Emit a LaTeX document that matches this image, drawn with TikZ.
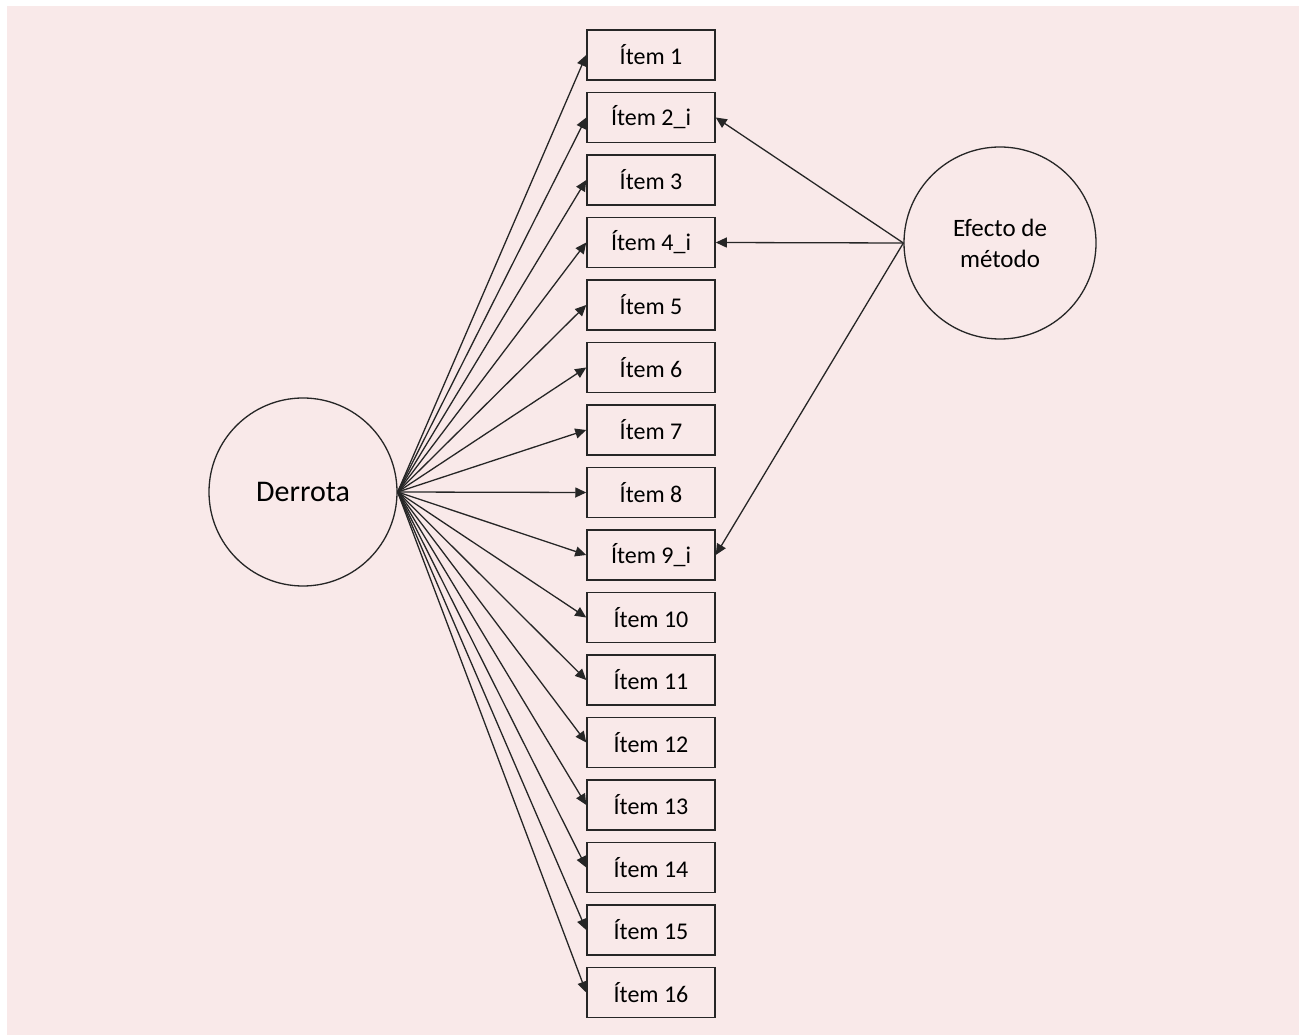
\documentclass[tikz,border=0pt]{standalone}
\usepackage{fontspec}
\setmainfont{Carlito}
\usetikzlibrary{arrows.meta}

\definecolor{fondo}{RGB}{249,233,233}

\tikzset{
    item/.style={rectangle, draw=black!85, line width=0.75pt, minimum width=64pt, minimum height=25pt, inner sep=0pt, font=\fontsize{12}{14}\selectfont},
    factor/.style={circle, draw=black!85, line width=0.65pt, inner sep=0pt},
    carga/.style={-{Triangle[length=5.5pt,width=5pt]}, line width=0.65pt, draw=black!85}
}

\begin{document}
\begin{tikzpicture}[x=0.5pt, y=0.5pt]

        \useasboundingbox (0,0) rectangle (1299,1034);
        \fill[fondo] (7,-6) rectangle (1306,1028);

        \node[factor, minimum size=94pt, font=\fontsize{15}{17}\selectfont] (derrota) at (303,542) {Derrota};
        \node[factor, minimum size=96pt, align=center, font=\fontsize{12.5}{15.5}\selectfont] (metodo) at (1000,791) {Efecto de\\método};

        \node[item] (i1) at (651,979) {Ítem 1};
        \node[item] (i2) at (651,916.5) {Ítem 2\_i};
        \node[item] (i3) at (651,854) {Ítem 3};
        \node[item] (i4) at (651,791.5) {Ítem 4\_i};
        \node[item] (i5) at (651,729) {Ítem 5};
        \node[item] (i6) at (651,666.5) {Ítem 6};
        \node[item] (i7) at (651,604) {Ítem 7};
        \node[item] (i8) at (651,541.5) {Ítem 8};
        \node[item] (i9) at (651,479) {Ítem 9\_i};
        \node[item] (i10) at (651,416.5) {Ítem 10};
        \node[item] (i11) at (651,354) {Ítem 11};
        \node[item] (i12) at (651,291.5) {Ítem 12};
        \node[item] (i13) at (651,229) {Ítem 13};
        \node[item] (i14) at (651,166.5) {Ítem 14};
        \node[item] (i15) at (651,104) {Ítem 15};
        \node[item] (i16) at (651,41.5) {Ítem 16};

        \draw[carga] (derrota.east) -- (i1.west);
        \draw[carga] (derrota.east) -- (i2.west);
        \draw[carga] (derrota.east) -- (i3.west);
        \draw[carga] (derrota.east) -- (i4.west);
        \draw[carga] (derrota.east) -- (i5.west);
        \draw[carga] (derrota.east) -- (i6.west);
        \draw[carga] (derrota.east) -- (i7.west);
        \draw[carga] (derrota.east) -- (i8.west);
        \draw[carga] (derrota.east) -- (i9.west);
        \draw[carga] (derrota.east) -- (i10.west);
        \draw[carga] (derrota.east) -- (i11.west);
        \draw[carga] (derrota.east) -- (i12.west);
        \draw[carga] (derrota.east) -- (i13.west);
        \draw[carga] (derrota.east) -- (i14.west);
        \draw[carga] (derrota.east) -- (i15.west);
        \draw[carga] (derrota.east) -- (i16.west);

        \draw[carga] (metodo.west) -- (i2.east);
        \draw[carga] (metodo.west) -- (i4.east);
        \draw[carga] (metodo.west) -- (i9.east);
    \end{tikzpicture}
\end{document}
